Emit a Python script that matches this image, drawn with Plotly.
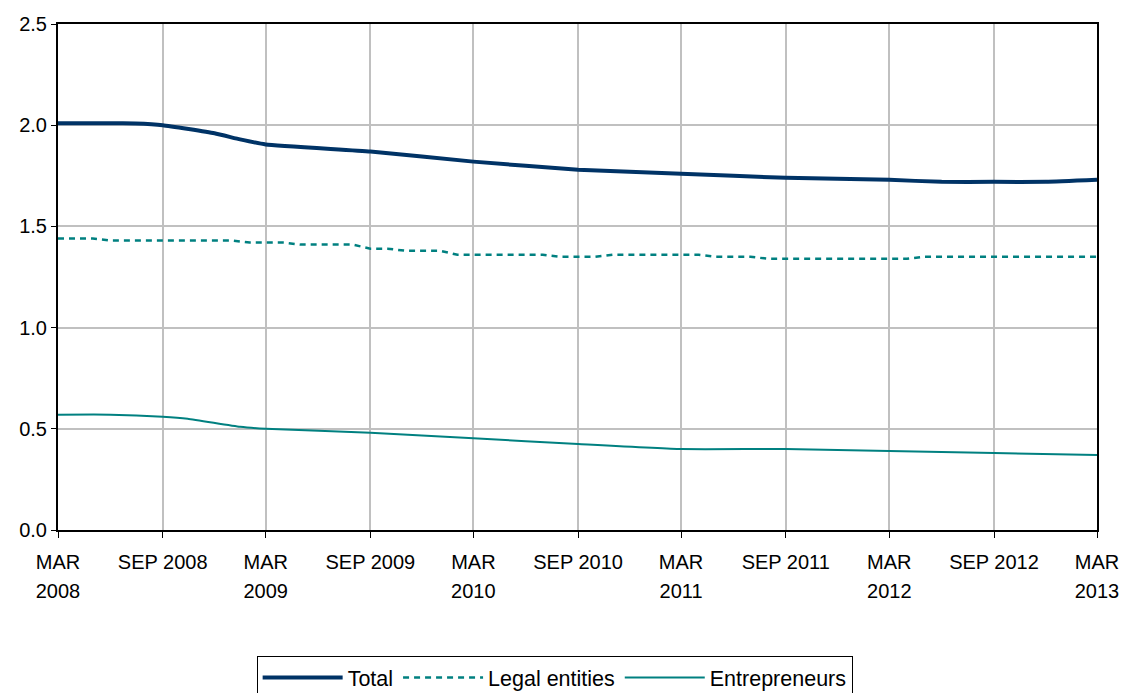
import plotly.graph_objects as go

# ---- data ----
total_dates = ["2008-03-01", "2008-06-01", "2008-07-15", "2008-09-01", "2008-12-01",
               "2009-01-15", "2009-03-01", "2009-09-01", "2010-03-01", "2010-09-01",
               "2011-03-01", "2011-09-01", "2012-03-01", "2012-06-01", "2012-09-01",
               "2012-12-01", "2013-03-01"]
total_vals = [2.01, 2.01, 2.008, 2.00, 1.96, 1.93, 1.905, 1.87, 1.82, 1.78,
              1.76, 1.74, 1.73, 1.72, 1.72, 1.72, 1.73]

legal_dates = ["2008-03-01", "2008-05-01", "2008-06-01", "2009-01-01", "2009-02-01",
               "2009-04-01", "2009-05-01", "2009-08-01", "2009-09-01", "2009-10-01",
               "2009-11-01", "2010-01-01", "2010-02-01", "2010-07-01", "2010-08-01",
               "2010-10-01", "2010-11-01", "2011-04-01", "2011-05-01", "2011-07-01",
               "2011-08-01", "2012-04-01", "2012-05-01", "2013-03-01"]
legal_vals = [1.44, 1.44, 1.43, 1.43, 1.42, 1.42, 1.41, 1.41, 1.39, 1.39,
              1.38, 1.38, 1.36, 1.36, 1.35, 1.35, 1.36, 1.36, 1.35, 1.35,
              1.34, 1.34, 1.35, 1.35]

entre_dates = ["2008-03-01", "2008-06-01", "2008-09-01", "2008-10-15", "2009-01-15",
               "2009-03-01", "2009-09-01", "2010-03-01", "2010-09-01", "2011-03-01",
               "2011-09-01", "2012-03-01", "2012-09-01", "2013-03-01"]
entre_vals = [0.57, 0.57, 0.56, 0.55, 0.51, 0.50, 0.48, 0.453, 0.425, 0.40,
              0.40, 0.39, 0.38, 0.37]

tick_dates = ["2008-03-01", "2008-09-01", "2009-03-01", "2009-09-01", "2010-03-01",
              "2010-09-01", "2011-03-01", "2011-09-01", "2012-03-01", "2012-09-01",
              "2013-03-01"]
tick_top = ["MAR", "SEP 2008", "MAR", "SEP 2009", "MAR", "SEP 2010", "MAR",
            "SEP 2011", "MAR", "SEP 2012", "MAR"]
tick_year = ["2008", "", "2009", "", "2010", "", "2011", "", "2012", "", "2013"]

FONT = "Liberation Sans, Arial, sans-serif"
NAVY = "#003366"
TEAL = "#008080"
FS = 20

fig = go.Figure()
fig.add_trace(go.Scatter(x=total_dates, y=total_vals, name="Total", mode="lines",
                         line=dict(color=NAVY, width=4, shape="spline", smoothing=0.4)))
fig.add_trace(go.Scatter(x=legal_dates, y=legal_vals, name="Legal entities", mode="lines",
                         line=dict(color=TEAL, width=2.5, dash="6px,5px")))
fig.add_trace(go.Scatter(x=entre_dates, y=entre_vals, name="Entrepreneurs", mode="lines",
                         line=dict(color=TEAL, width=2, shape="spline", smoothing=0.4)))
# empty trace to carry the year-label axis
fig.add_trace(go.Scatter(x=[], y=[], xaxis="x2", showlegend=False, hoverinfo="skip"))

xr = ["2008-03-01", "2013-03-01"]
fig.update_layout(
    width=1123, height=693,
    margin=dict(l=58, r=26, t=24, b=163, autoexpand=False),
    paper_bgcolor="white", plot_bgcolor="white",
    font=dict(family=FONT, size=FS, color="black"),
    xaxis=dict(type="date", range=xr, tickmode="array", tickvals=tick_dates,
               ticktext=tick_top, showgrid=True, gridcolor="#c0c0c0", gridwidth=2,
               showline=True, linecolor="black", linewidth=2, mirror=True,
               ticks="outside", ticklen=6, tickcolor="black", tickwidth=1,
               tickangle=0, zeroline=False, tickfont=dict(size=FS),
               ticklabelstandoff=7, automargin=False, ticklabeloverflow="allow"),
    xaxis2=dict(type="date", range=xr, overlaying="x", anchor="y", side="bottom",
                tickmode="array", tickvals=tick_dates, ticktext=tick_year,
                showgrid=False, showline=False, ticks="", zeroline=False,
                ticklabelstandoff=47, tickangle=0, tickfont=dict(size=FS),
                automargin=False, ticklabeloverflow="allow"),
    yaxis=dict(range=[0, 2.5], dtick=0.5, tickformat=".1f", showgrid=True,
               gridcolor="#c0c0c0", gridwidth=2, showline=True, linecolor="black",
               linewidth=2, mirror=True, ticks="outside", ticklen=5, tickcolor="black",
               zeroline=False, tickfont=dict(size=FS), automargin=False),
    legend=dict(orientation="h", xref="paper", x=0.478, xanchor="center",
                yref="paper", y=-0.249, yanchor="top", bordercolor="black",
                borderwidth=1, font=dict(size=21.5), itemwidth=80,
                tracegroupgap=0, bgcolor="white"),
    showlegend=True,
)

# remove the page's default body margin so the figure fills the window exactly
fig.write_html("out.html",
               config={"displayModeBar": False},
               post_script="document.body.style.margin='0';"
                           "document.body.style.overflow='hidden';")
